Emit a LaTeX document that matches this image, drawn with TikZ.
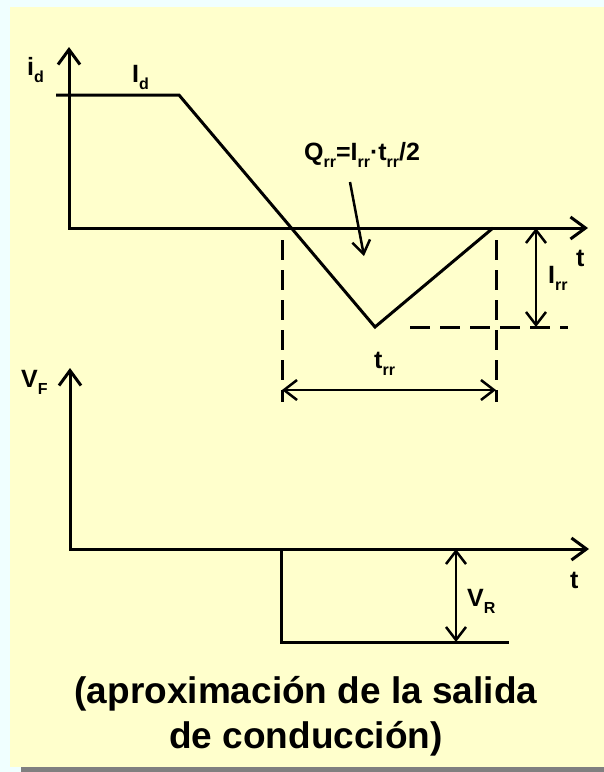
\documentclass[tikz,border=0pt]{standalone}
\usepackage{fontspec}
\setmainfont{Liberation Sans}
\usetikzlibrary{arrows.meta, positioning}
\usepackage{xcolor}
\definecolor{SlidePaper}{HTML}{FFFFCC}
\definecolor{SlideEdge}{HTML}{F0FFFF}
\definecolor{SlideShadow}{HTML}{808080}
\definecolor{InkBlack}{HTML}{000000}
\newcommand{\lowsub}[1]{\raisebox{-7pt}{\fontsize{16}{16}\selectfont #1}}
\tikzset{
    % Line styles
    axis/.style={
        {Straight Barb[length=15pt,width=22pt]}-{Straight Barb[length=15pt,width=22pt]},
        line width=3pt,
        draw=InkBlack
    },
    wave/.style={
        line width=3pt,
        draw=InkBlack
    },
    guideline/.style={
        line width=3pt,
        draw=InkBlack,
        dash pattern=on 20pt off 10pt
    },
    % Arrow styles
    dimarrow/.style={
        {Straight Barb[length=13pt,width=20pt]}-{Straight Barb[length=13pt,width=20pt]},
        line width=2.5pt,
        draw=InkBlack
    },
    pointer/.style={
        -{Straight Barb[length=13pt,width=18pt]},
        line width=2.5pt,
        draw=InkBlack
    },
    % Text styles
    lbl/.style={
        anchor=base west,
        inner sep=0pt,
        font=\bfseries\fontsize{25}{30}\selectfont
    },
    caption/.style={
        align=center,
        inner sep=0pt,
        font=\bfseries\fontsize{37}{45}\selectfont
    }
}
\begin{document}
\begin{tikzpicture}[x=1pt, y=-1pt]
    % slide background
    \useasboundingbox (0,0) rectangle (604,772);
    \fill[SlideEdge] (0,0) rectangle (604,772);
    \fill[SlidePaper] (10,7) rectangle (604,767);
    \fill[SlideShadow] (21,767) rectangle (604,772);

    % diode current
    \coordinate (iTop) at (69,47);
    \coordinate (iOrigin) at (69,228);
    \coordinate (iEnd) at (588,228);
    \coordinate (idStart) at (56,95);
    \coordinate (idKnee) at (179,95);
    \coordinate (irrPeak) at (375,327);
    \coordinate (idZero) at (493,228);
    \draw[axis] (iTop) -- (iOrigin) -- (iEnd);
    \draw[wave] (idStart) -- (idKnee) -- (irrPeak) -- (idZero);

    \node[lbl] (lblid) at (27,75) {i\lowsub{d}};
    \node[lbl] (lblId) at (132,82) {I\lowsub{d}};
    \node[lbl] (lblt1) at (576,266) {t};
    \node[lbl] (lblQ) at (304,160) {Q\lowsub{rr}=I\lowsub{rr}·t\lowsub{rr}/2};
    \coordinate (qTail) at (350,182);
    \coordinate (qHead) at (364,256);
    \draw[pointer] (qTail) -- (qHead);

    % t_rr and I_rr
    \coordinate (trrA) at (282,240);
    \coordinate (trrB) at (282,402);
    \coordinate (trrC) at (496,240);
    \coordinate (trrD) at (496,402);
    \coordinate (irrA) at (410,327);
    \coordinate (irrB) at (568,327);
    \draw[guideline] (trrA) -- (trrB);
    \draw[guideline] (trrC) -- (trrD);
    \draw[guideline] (irrA) -- (irrB);
    \coordinate (trrL) at (282,390);
    \coordinate (trrR) at (496,390);
    \draw[dimarrow] (trrL) -- (trrR);
    \node[lbl] (lbltrr) at (374,368) {t\lowsub{rr}};
    \coordinate (irrTop) at (536,228);
    \coordinate (irrBot) at (536,327);
    \draw[dimarrow] (irrTop) -- (irrBot);
    \node[lbl] (lblIrr) at (548,283) {I\lowsub{rr}};

    % diode voltage
    \coordinate (vTop) at (70,368);
    \coordinate (vOrigin) at (70,549);
    \coordinate (vEnd) at (589,549);
    \coordinate (vStep) at (281,549);
    \coordinate (vLow) at (281,642);
    \coordinate (vLowEnd) at (509,642);
    \draw[axis] (vTop) -- (vOrigin) -- (vEnd);
    \draw[wave] (vStep) -- (vLow) -- (vLowEnd);
    \coordinate (vrTop) at (456,549);
    \coordinate (vrBot) at (456,642);
    \draw[dimarrow] (vrTop) -- (vrBot);
    \node[lbl] (lblVF) at (21,387) {V\lowsub{F}};
    \node[lbl] (lblt2) at (570,588) {t};
    \node[lbl] (lblVR) at (467,606) {V\lowsub{R}};

    \node[caption] (note) at (306,716) {(aproximación de la salida\\de conducción)};
\end{tikzpicture}
\end{document}
